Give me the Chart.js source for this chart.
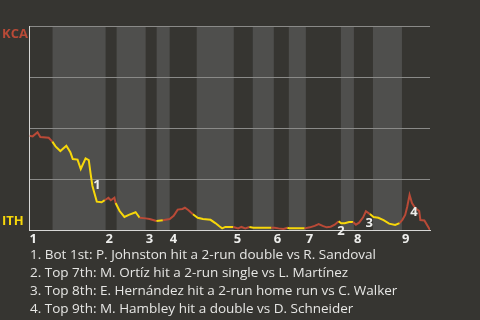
<!DOCTYPE html>
<html>
<head>
<meta charset="utf-8">
<script src="https://cdn.jsdelivr.net/npm/chart.js@4"></script>
<style>
    html, body { margin: 0; padding: 0; background: #363531; }
    #wrap { position: relative; width: 480px; height: 320px; }
    #notes {
        position: absolute; left: 30px; top: 245px;
        font: 13.5px 'Open Sans', sans-serif; line-height: 18px; color: #e6e6e4;
        white-space: nowrap;
    }
</style>
</head>
<body>
<div id="wrap">
    <canvas id="wpChart" width="480" height="320"></canvas>
    <div id="notes"></div>
</div>
<script>
// Game progress (0-100) and KCA win probability (%) after each play
const playPos = [0, 0.8, 2, 2.7, 4.8, 5.7, 6.5, 7.7, 9.2, 10.2, 10.8, 12, 12.8, 14, 14.8, 15.3, 15.7, 16.2, 16.8, 18,
    18.8, 19.7, 20.3, 21.2, 21.5, 22.5, 23.7, 24.8, 26.5, 27.5, 29, 30, 31.7, 33.3, 35, 36, 37, 38.2, 38.8, 39.7,
    40.8, 42, 43.3, 45.2, 46.4, 47.4, 48.1, 48.9, 50.9, 52.1, 52.9, 53.9, 54.9, 55.9, 60.4, 61.2, 62.2, 63.4, 64.4, 64.9,
    68.7, 70, 71.2, 72.2, 73.2, 74.2, 75.2, 76.2, 77.2, 77.8, 78.7, 79.8, 80.8, 81.5, 82.3, 83.3, 84, 85, 85.9, 87.1,
    88.4, 89.8, 91.3, 92.4, 93.1, 93.8, 94.3, 94.9, 95.5, 96.3, 97.3, 97.6, 98.6, 100];
const kcaWinPct = [46.2, 45.9, 47.9, 45.6, 45.2, 43.3, 41.0, 38.7, 41.3, 38.1, 34.8, 34.5, 29.9, 35.1, 34.2, 27.0, 21.7, 18.1, 13.9, 13.6,
    14.6, 15.8, 14.6, 15.8, 13.2, 9.3, 6.4, 7.4, 8.7, 6.0, 5.7, 5.4, 4.4, 4.8, 5.4, 7.0, 10.0, 10.3, 10.9, 9.7,
    7.7, 6.0, 5.4, 5.0, 3.4, 1.8, 0.8, 1.5, 1.5, 0.8, 1.5, 0.8, 1.5, 1.1, 1.1, 1.1, 0.8, 0.5, 1.1, 0.8,
    0.8, 1.3, 2.0, 2.9, 2.0, 1.3, 1.6, 2.6, 4.3, 3.3, 3.3, 3.9, 3.9, 2.6, 3.6, 6.2, 9.2, 7.8, 6.4, 6.0,
    4.8, 3.1, 2.5, 3.4, 5.0, 7.4, 11.3, 17.2, 13.2, 10.8, 9.3, 4.9, 4.7, 0];

// Half-inning start positions (even index = top, KCA batting; odd = bottom, ITH batting)
const halfStarts = [0, 5.75, 19, 21.75, 29, 31.75, 35, 41.75, 51, 55.75, 61, 64.75, 69, 77.75, 81, 85.75, 93];
const inningLabels = ['1', '2', '3', '4', '5', '6', '7', '8', '9'];

// Key plays
const eventLabels = ['1', '2', '3', '4'];
const eventX = [16.85, 77.8, 84.8, 96.0];
const eventY = [22.1, -0.5, 3.4, 8.8];
const eventNotes = [
    '1. Bot 1st: P. Johnston hit a 2-run double vs R. Sandoval',
    '2. Top 7th: M. Ortíz hit a 2-run single vs L. Martínez',
    '3. Top 8th: E. Hernández hit a 2-run home run vs C. Walker',
    '4. Top 9th: M. Hambley hit a double vs D. Schneider'
];

const RED = '#b94a37';
const YELLOW = '#f7d70a';
const BAND = '#4f4f4d';
const FONT = "'Open Sans', sans-serif";

const inningStarts = halfStarts.filter((v, i) => i % 2 === 0);

function isTopHalf(x) {
    let idx = 0;
    halfStarts.forEach((s, i) => { if (x >= s) idx = i; });
    return idx % 2 === 0;
}

// Shaded bands for bottom halves
const bandsPlugin = {
    id: 'bands',
    beforeDraw(chart) {
        const { ctx, chartArea, scales } = chart;
        ctx.save();
        ctx.fillStyle = BAND;
        for (let i = 1; i < halfStarts.length; i += 2) {
            const x0 = scales.x.getPixelForValue(halfStarts[i]);
            const x1 = scales.x.getPixelForValue(halfStarts[i + 1] !== undefined ? halfStarts[i + 1] : 100);
            ctx.fillRect(x0, chartArea.top, x1 - x0, chartArea.bottom - chartArea.top);
        }
        ctx.restore();
    }
};

// Team names and key-play markers
const labelsPlugin = {
    id: 'teamLabels',
    afterDatasetsDraw(chart) {
        const { ctx, chartArea, scales } = chart;
        ctx.save();
        ctx.font = 'bold 13px ' + FONT;
        ctx.textAlign = 'left';
        ctx.textBaseline = 'alphabetic';
        ctx.fillStyle = RED;
        ctx.fillText('KCA', 2, chartArea.top + 12);
        ctx.fillStyle = YELLOW;
        ctx.fillText('ITH', 2, chartArea.bottom - 5);

        ctx.fillStyle = '#eeeeec';
        ctx.textAlign = 'center';
        ctx.textBaseline = 'middle';
        eventLabels.forEach((lbl, i) => {
            ctx.fillText(lbl, scales.x.getPixelForValue(eventX[i]), scales.y.getPixelForValue(eventY[i]));
        });
        ctx.restore();
    }
};

document.getElementById('notes').innerHTML = eventNotes.map(n => '<div>' + n + '</div>').join('');

new Chart(document.getElementById('wpChart'), {
    type: 'line',
    data: {
        datasets: [{
            data: playPos.map((x, i) => ({ x: x, y: kcaWinPct[i] })),
            borderWidth: 2,
            pointRadius: 0,
            tension: 0,
            borderColor: YELLOW,
            segment: {
                borderColor: ctx => isTopHalf(playPos[ctx.p1DataIndex]) ? RED : YELLOW
            }
        }]
    },
    options: {
        responsive: false,
        animation: false,
        layout: { padding: { left: 29.5, right: 50, top: 26, bottom: 70 } },
        plugins: { legend: { display: false }, tooltip: { enabled: false } },
        scales: {
            x: {
                type: 'linear',
                min: 0,
                max: 100,
                afterBuildTicks: s => { s.ticks = inningStarts.map(v => ({ value: v })); },
                afterFit: s => { s.height = 20; },
                grid: { display: false, drawTicks: false },
                border: { color: '#d8d8d6', width: 1 },
                ticks: {
                    autoSkip: false,
                    maxRotation: 0,
                    align: 'start',
                    padding: 1,
                    color: '#eeeeec',
                    font: { family: FONT, size: 13, weight: 'bold' },
                    callback: v => inningLabels[inningStarts.indexOf(v)]
                }
            },
            y: {
                min: 0,
                max: 100,
                afterFit: s => { s.width = 0; },
                ticks: { display: false, stepSize: 25 },
                grid: {
                    drawTicks: false,
                    color: c => c.tick.value === 0 ? 'rgba(0,0,0,0)' : '#8a8a88'
                },
                border: { color: '#d8d8d6', width: 1 }
            }
        }
    },
    plugins: [bandsPlugin, labelsPlugin]
});
</script>
</body>
</html>
